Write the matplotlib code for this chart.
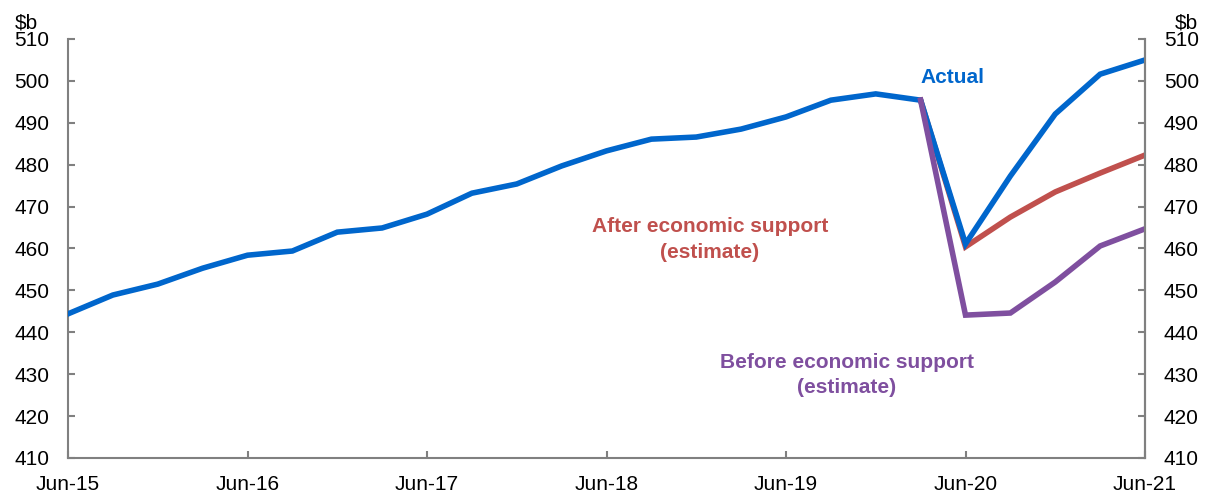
import matplotlib
matplotlib.use("Agg")
import matplotlib.pyplot as plt

plt.rcParams['font.family'] = ['Liberation Sans', 'DejaVu Sans']

quarters = ["Jun-15", "Sep-15", "Dec-15", "Mar-16", "Jun-16", "Sep-16", "Dec-16", "Mar-17",
            "Jun-17", "Sep-17", "Dec-17", "Mar-18", "Jun-18", "Sep-18", "Dec-18", "Mar-19",
            "Jun-19", "Sep-19", "Dec-19", "Mar-20", "Jun-20", "Sep-20", "Dec-20", "Mar-21", "Jun-21"]
actual = [444.4, 448.9, 451.5, 455.3, 458.4, 459.4, 463.9, 464.9, 468.2, 473.2, 475.4, 479.7,
          483.3, 486.1, 486.6, 488.5, 491.4, 495.4, 496.9, 495.4, 461.1, 477.3, 492.1, 501.6, 505.0]
after_quarters = ["Mar-20", "Jun-20", "Sep-20", "Dec-20", "Mar-21", "Jun-21"]
after_support = [495.4, 460.4, 467.5, 473.5, 478.0, 482.3]
before_support = [495.4, 444.1, 444.6, 452.0, 460.6, 464.7]
tick_labels = ["Jun-15", "Jun-16", "Jun-17", "Jun-18", "Jun-19", "Jun-20", "Jun-21"]
yticks = list(range(410, 511, 10))

BLUE = '#0066CC'
RED = '#C0504D'
PURPLE = '#7F4F9F'
GREY = '#808080'
FS = 15

fig = plt.figure(figsize=(12.07, 4.96), dpi=100)
ax = fig.add_axes([68/1207, 1-458/496, (1145-68)/1207, 419/496])

xa = list(range(len(quarters)))
xe = [quarters.index(q) for q in after_quarters]

ax.plot(xe, after_support, color=RED, lw=4, solid_joinstyle='miter', zorder=2)
ax.plot(xa, actual, color=BLUE, lw=4, solid_joinstyle='miter', zorder=3)
ax.plot(xe, before_support, color=PURPLE, lw=4, solid_joinstyle='miter', zorder=4)

ax.set_xlim(0, len(quarters)-1)
ax.set_ylim(410, 510)
ax.set_xticks([quarters.index(t) for t in tick_labels])
ax.set_xticklabels(tick_labels)
ax.set_yticks(yticks)

ax2 = ax.twinx()
ax2.set_ylim(410, 510)
ax2.set_yticks(yticks)

for a in (ax, ax2):
    a.spines['top'].set_visible(False)
    for s in ('left', 'right', 'bottom'):
        a.spines[s].set_color(GREY)
        a.spines[s].set_linewidth(1.5)
    a.tick_params(axis='both', direction='in', length=5, width=1.5, color=GREY,
                  labelsize=FS, labelcolor='#000000', pad=13.5)
ax.tick_params(axis='x', pad=12)
ax2.spines['left'].set_visible(False)
ax2.spines['bottom'].set_visible(False)

ax.text(-0.028, 1.015, "$b", transform=ax.transAxes, ha='right', va='bottom', fontsize=FS)
ax2.text(1.028, 1.015, "$b", transform=ax.transAxes, ha='left', va='bottom', fontsize=FS)

ax.text(19.7, 500.8, "Actual", color=BLUE, fontsize=FS, fontweight='bold', ha='center', va='center')
ax.text(14.3, 462.1, "After economic support\n(estimate)", color=RED, fontsize=FS,
        fontweight='bold', ha='center', va='center', linespacing=1.45)
ax.text(17.35, 429.8, "Before economic support\n(estimate)", color=PURPLE, fontsize=FS,
        fontweight='bold', ha='center', va='center', linespacing=1.45)

fig.savefig("out.png", dpi=100)
